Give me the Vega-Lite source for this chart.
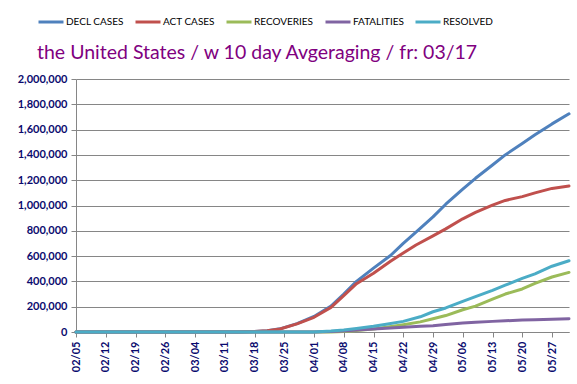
{
  "$schema": "https://vega.github.io/schema/vega-lite/v6.json",
  "width": 493,
  "height": 253,
  "autosize": "none",
  "padding": {"left": 76, "top": 79, "right": 8, "bottom": 52},
  "background": "white",
  "title": {
    "text": "the United States / w 10 day Avgeraging / fr: 03/17",
    "anchor": "start",
    "frame": "group",
    "dx": -39,
    "dy": 92,
    "offset": 22,
    "baseline": "alphabetic",
    "font": "Lato",
    "fontSize": 19.5,
    "fontWeight": "normal",
    "color": "#800080"
  },
  "data": {
    "values": [
      {"date": "2020-02-05", "series": "DECL CASES", "value": 0},
      {"date": "2020-03-14", "series": "DECL CASES", "value": 0},
      {"date": "2020-03-18", "series": "DECL CASES", "value": 3000},
      {"date": "2020-03-21", "series": "DECL CASES", "value": 10000},
      {"date": "2020-03-24", "series": "DECL CASES", "value": 25000},
      {"date": "2020-03-28", "series": "DECL CASES", "value": 66000},
      {"date": "2020-04-01", "series": "DECL CASES", "value": 123000},
      {"date": "2020-04-05", "series": "DECL CASES", "value": 205000},
      {"date": "2020-04-08", "series": "DECL CASES", "value": 300000},
      {"date": "2020-04-11", "series": "DECL CASES", "value": 400000},
      {"date": "2020-04-15", "series": "DECL CASES", "value": 505000},
      {"date": "2020-04-19", "series": "DECL CASES", "value": 605000},
      {"date": "2020-04-22", "series": "DECL CASES", "value": 700000},
      {"date": "2020-04-25", "series": "DECL CASES", "value": 790000},
      {"date": "2020-04-29", "series": "DECL CASES", "value": 910000},
      {"date": "2020-05-02", "series": "DECL CASES", "value": 1010000},
      {"date": "2020-05-06", "series": "DECL CASES", "value": 1130000},
      {"date": "2020-05-09", "series": "DECL CASES", "value": 1215000},
      {"date": "2020-05-13", "series": "DECL CASES", "value": 1320000},
      {"date": "2020-05-16", "series": "DECL CASES", "value": 1400000},
      {"date": "2020-05-20", "series": "DECL CASES", "value": 1490000},
      {"date": "2020-05-23", "series": "DECL CASES", "value": 1560000},
      {"date": "2020-05-27", "series": "DECL CASES", "value": 1645000},
      {"date": "2020-05-31", "series": "DECL CASES", "value": 1725000},

      {"date": "2020-02-05", "series": "ACT CASES", "value": 0},
      {"date": "2020-03-14", "series": "ACT CASES", "value": 0},
      {"date": "2020-03-18", "series": "ACT CASES", "value": 3000},
      {"date": "2020-03-21", "series": "ACT CASES", "value": 10000},
      {"date": "2020-03-24", "series": "ACT CASES", "value": 24000},
      {"date": "2020-03-28", "series": "ACT CASES", "value": 64000},
      {"date": "2020-04-01", "series": "ACT CASES", "value": 116000},
      {"date": "2020-04-05", "series": "ACT CASES", "value": 195000},
      {"date": "2020-04-08", "series": "ACT CASES", "value": 287000},
      {"date": "2020-04-11", "series": "ACT CASES", "value": 382000},
      {"date": "2020-04-15", "series": "ACT CASES", "value": 465000},
      {"date": "2020-04-19", "series": "ACT CASES", "value": 560000},
      {"date": "2020-04-22", "series": "ACT CASES", "value": 625000},
      {"date": "2020-04-25", "series": "ACT CASES", "value": 688000},
      {"date": "2020-04-29", "series": "ACT CASES", "value": 760000},
      {"date": "2020-05-02", "series": "ACT CASES", "value": 815000},
      {"date": "2020-05-06", "series": "ACT CASES", "value": 895000},
      {"date": "2020-05-09", "series": "ACT CASES", "value": 945000},
      {"date": "2020-05-13", "series": "ACT CASES", "value": 1003000},
      {"date": "2020-05-16", "series": "ACT CASES", "value": 1040000},
      {"date": "2020-05-20", "series": "ACT CASES", "value": 1070000},
      {"date": "2020-05-23", "series": "ACT CASES", "value": 1100000},
      {"date": "2020-05-27", "series": "ACT CASES", "value": 1135000},
      {"date": "2020-05-31", "series": "ACT CASES", "value": 1155000},

      {"date": "2020-02-05", "series": "RECOVERIES", "value": 0},
      {"date": "2020-04-05", "series": "RECOVERIES", "value": 0},
      {"date": "2020-04-08", "series": "RECOVERIES", "value": 3000},
      {"date": "2020-04-11", "series": "RECOVERIES", "value": 12000},
      {"date": "2020-04-15", "series": "RECOVERIES", "value": 24000},
      {"date": "2020-04-18", "series": "RECOVERIES", "value": 38000},
      {"date": "2020-04-22", "series": "RECOVERIES", "value": 58000},
      {"date": "2020-04-26", "series": "RECOVERIES", "value": 80000},
      {"date": "2020-04-29", "series": "RECOVERIES", "value": 105000},
      {"date": "2020-05-02", "series": "RECOVERIES", "value": 130000},
      {"date": "2020-05-06", "series": "RECOVERIES", "value": 176000},
      {"date": "2020-05-09", "series": "RECOVERIES", "value": 205000},
      {"date": "2020-05-13", "series": "RECOVERIES", "value": 260000},
      {"date": "2020-05-16", "series": "RECOVERIES", "value": 300000},
      {"date": "2020-05-20", "series": "RECOVERIES", "value": 340000},
      {"date": "2020-05-23", "series": "RECOVERIES", "value": 385000},
      {"date": "2020-05-27", "series": "RECOVERIES", "value": 435000},
      {"date": "2020-05-31", "series": "RECOVERIES", "value": 471000},

      {"date": "2020-02-05", "series": "FATALITIES", "value": 0},
      {"date": "2020-04-01", "series": "FATALITIES", "value": 0},
      {"date": "2020-04-05", "series": "FATALITIES", "value": 3000},
      {"date": "2020-04-08", "series": "FATALITIES", "value": 8000},
      {"date": "2020-04-11", "series": "FATALITIES", "value": 15000},
      {"date": "2020-04-15", "series": "FATALITIES", "value": 24000},
      {"date": "2020-04-18", "series": "FATALITIES", "value": 30000},
      {"date": "2020-04-22", "series": "FATALITIES", "value": 37000},
      {"date": "2020-04-26", "series": "FATALITIES", "value": 45000},
      {"date": "2020-04-29", "series": "FATALITIES", "value": 50000},
      {"date": "2020-05-02", "series": "FATALITIES", "value": 60000},
      {"date": "2020-05-06", "series": "FATALITIES", "value": 71000},
      {"date": "2020-05-09", "series": "FATALITIES", "value": 77000},
      {"date": "2020-05-13", "series": "FATALITIES", "value": 84000},
      {"date": "2020-05-16", "series": "FATALITIES", "value": 88000},
      {"date": "2020-05-20", "series": "FATALITIES", "value": 95000},
      {"date": "2020-05-23", "series": "FATALITIES", "value": 97000},
      {"date": "2020-05-27", "series": "FATALITIES", "value": 100000},
      {"date": "2020-05-31", "series": "FATALITIES", "value": 105000},

      {"date": "2020-02-05", "series": "RESOLVED", "value": 0},
      {"date": "2020-04-01", "series": "RESOLVED", "value": 0},
      {"date": "2020-04-05", "series": "RESOLVED", "value": 7000},
      {"date": "2020-04-08", "series": "RESOLVED", "value": 16000},
      {"date": "2020-04-11", "series": "RESOLVED", "value": 28000},
      {"date": "2020-04-15", "series": "RESOLVED", "value": 45000},
      {"date": "2020-04-18", "series": "RESOLVED", "value": 62000},
      {"date": "2020-04-22", "series": "RESOLVED", "value": 84000},
      {"date": "2020-04-26", "series": "RESOLVED", "value": 120000},
      {"date": "2020-04-29", "series": "RESOLVED", "value": 160000},
      {"date": "2020-05-02", "series": "RESOLVED", "value": 190000},
      {"date": "2020-05-06", "series": "RESOLVED", "value": 242000},
      {"date": "2020-05-09", "series": "RESOLVED", "value": 280000},
      {"date": "2020-05-13", "series": "RESOLVED", "value": 329000},
      {"date": "2020-05-16", "series": "RESOLVED", "value": 370000},
      {"date": "2020-05-20", "series": "RESOLVED", "value": 424000},
      {"date": "2020-05-23", "series": "RESOLVED", "value": 460000},
      {"date": "2020-05-27", "series": "RESOLVED", "value": 520000},
      {"date": "2020-05-31", "series": "RESOLVED", "value": 563000}
    ]
  },
  "mark": {"type": "line", "strokeWidth": 3, "strokeCap": "round", "strokeJoin": "round"},
  "encoding": {
    "x": {
      "field": "date",
      "type": "temporal",
      "scale": {"type": "utc", "domain": [1580860800000, 1590883200000]},
      "axis": {
        "title": null,
        "values": [1580860800000, 1581465600000, 1582070400000, 1582675200000, 1583280000000, 1583884800000, 1584489600000, 1585094400000, 1585699200000, 1586304000000, 1586908800000, 1587513600000, 1588118400000, 1588723200000, 1589328000000, 1589932800000, 1590537600000],
        "labelExpr": "utcFormat(datum.value, '%m/%d')",
        "labelAngle": -90,
        "labelAlign": "right",
        "labelBaseline": "middle",
        "labelFont": "Lato",
        "labelFontSize": 11,
        "labelFontWeight": "bold",
        "labelColor": "#0a0a6e",
        "labelPadding": 4,
        "labelOverlap": false,
        "labelFlush": false,
        "grid": false,
        "domainColor": "#868686",
        "domainWidth": 1,
        "tickColor": "#868686",
        "tickSize": 5
      }
    },
    "y": {
      "field": "value",
      "type": "quantitative",
      "scale": {"domain": [0, 2000000], "nice": false},
      "axis": {
        "title": null,
        "values": [0, 200000, 400000, 600000, 800000, 1000000, 1200000, 1400000, 1600000, 1800000, 2000000],
        "format": ",.0f",
        "labelFont": "Lato",
        "labelFontSize": 11,
        "labelFontWeight": "bold",
        "labelColor": "#0a0a6e",
        "labelPadding": 4,
        "gridColor": "#868686",
        "gridWidth": 1,
        "domainColor": "#868686",
        "tickColor": "#868686",
        "tickSize": 5
      }
    },
    "color": {
      "field": "series",
      "type": "nominal",
      "scale": {
        "domain": ["DECL CASES", "ACT CASES", "RECOVERIES", "FATALITIES", "RESOLVED"],
        "range": ["#4F81BD", "#C0504D", "#9BBB59", "#8064A2", "#4BACC6"]
      },
      "legend": {
        "title": null,
        "orient": "none",
        "direction": "horizontal",
        "legendX": -39,
        "legendY": -71,
        "symbolType": "stroke",
        "symbolSize": 625,
        "symbolStrokeWidth": 3,
        "labelFont": "Lato",
        "labelFontSize": 10,
        "labelColor": "#000000",
        "labelOffset": 1,
        "columnPadding": 5
      }
    }
  },
  "config": {
    "view": {"stroke": null}
  }
}
